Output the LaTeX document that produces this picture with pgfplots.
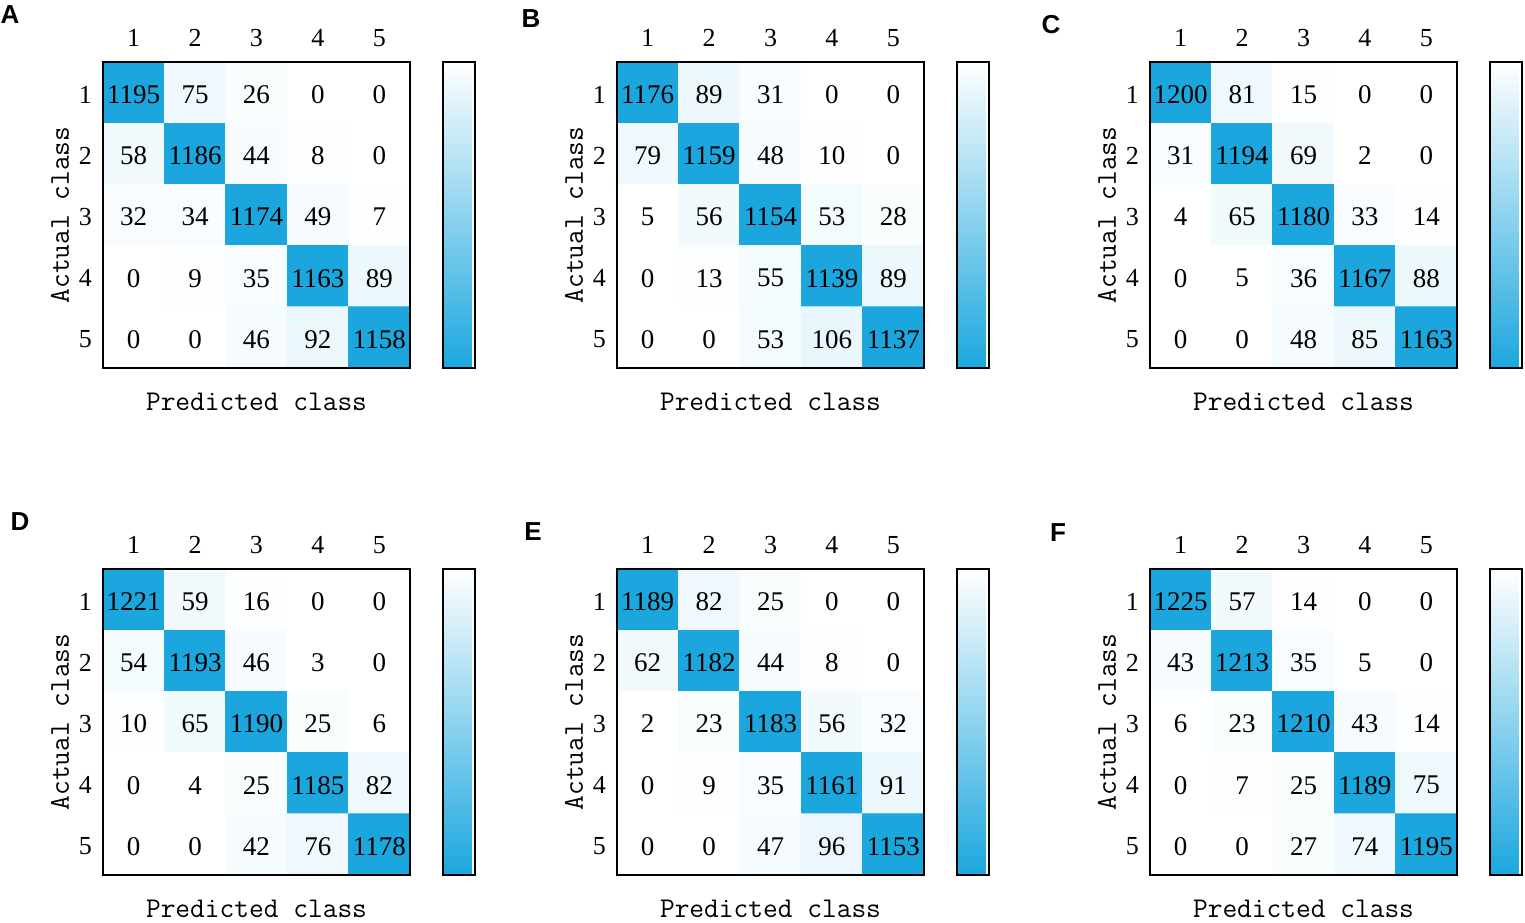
\documentclass[border=0pt]{standalone}
\usepackage{fontspec}
\setmainfont{Liberation Serif}
\newfontfamily\panelfont{Liberation Sans}
\usepackage{pgfplots}
\pgfplotsset{compat=1.18}
\pgfplotsset{
  cm/.style={
    width=153.5pt, height=153pt, scale only axis,
    xmin=0.5, xmax=5.5, ymin=0.5, ymax=5.5, y dir=reverse,
    xtick={1,...,5}, ytick={1,...,5},
    xticklabel pos=top,
    major tick length=0pt, tick style={draw=none},
    /pgf/number format/assume math mode=true,
    /pgf/number format/1000 sep={},
    ticklabel style={font=\fontsize{13}{15}\selectfont},
    xticklabel style={yshift=4pt},
    yticklabel style={xshift=-2pt, yshift=-1pt},
    axis on top,
    axis line style={line width=1pt, black},
    colormap={cmb}{rgb255=(255,255,255) rgb255=(27,167,222)},
    point meta min=0, point meta max=1100,
    colorbar,
    colorbar style={width=16pt, ytick=\empty, xtick=\empty, y dir=reverse,
      axis line style={line width=1pt},
      at={(parent axis.north east)}, anchor=north west, xshift=8pt},
    xlabel={Predicted class}, ylabel={Actual class},
    xlabel style={at={(axis description cs:0.5,-0.111)}, anchor=center,
      font=\fontsize{14.3}{16}\selectfont\ttfamily},
    ylabel style={at={(axis description cs:-0.14,0.5)}, anchor=center,
      font=\fontsize{14.3}{16}\selectfont\ttfamily},
    nodes near coords={\pgfmathprintnumber{\pgfplotspointmeta}},
    nodes near coords style={anchor=center, yshift=-1pt, text=black, font=\fontsize{13.5}{15}\selectfont},
  }
}
\begin{document}
\begin{tikzpicture}
\path[use as bounding box] (0,0) rectangle (762.5pt,461pt);
% A
\begin{axis}[cm, at={(51.5pt,277pt)}, anchor=south west]
\addplot[matrix plot*, mesh/cols=5, point meta=explicit] coordinates {
(1,1)[1195] (2,1)[75] (3,1)[26] (4,1)[0] (5,1)[0]
(1,2)[58] (2,2)[1186] (3,2)[44] (4,2)[8] (5,2)[0]
(1,3)[32] (2,3)[34] (3,3)[1174] (4,3)[49] (5,3)[7]
(1,4)[0] (2,4)[9] (3,4)[35] (4,4)[1163] (5,4)[89]
(1,5)[0] (2,5)[0] (3,5)[46] (4,5)[92] (5,5)[1158]};
\end{axis}
% B
\begin{axis}[cm, at={(308.5pt,277pt)}, anchor=south west]
\addplot[matrix plot*, mesh/cols=5, point meta=explicit] coordinates {
(1,1)[1176] (2,1)[89] (3,1)[31] (4,1)[0] (5,1)[0]
(1,2)[79] (2,2)[1159] (3,2)[48] (4,2)[10] (5,2)[0]
(1,3)[5] (2,3)[56] (3,3)[1154] (4,3)[53] (5,3)[28]
(1,4)[0] (2,4)[13] (3,4)[55] (4,4)[1139] (5,4)[89]
(1,5)[0] (2,5)[0] (3,5)[53] (4,5)[106] (5,5)[1137]};
\end{axis}
% C
\begin{axis}[cm, at={(575pt,277pt)}, anchor=south west]
\addplot[matrix plot*, mesh/cols=5, point meta=explicit] coordinates {
(1,1)[1200] (2,1)[81] (3,1)[15] (4,1)[0] (5,1)[0]
(1,2)[31] (2,2)[1194] (3,2)[69] (4,2)[2] (5,2)[0]
(1,3)[4] (2,3)[65] (3,3)[1180] (4,3)[33] (5,3)[14]
(1,4)[0] (2,4)[5] (3,4)[36] (4,4)[1167] (5,4)[88]
(1,5)[0] (2,5)[0] (3,5)[48] (4,5)[85] (5,5)[1163]};
\end{axis}
% D
\begin{axis}[cm, at={(51.5pt,23.5pt)}, anchor=south west]
\addplot[matrix plot*, mesh/cols=5, point meta=explicit] coordinates {
(1,1)[1221] (2,1)[59] (3,1)[16] (4,1)[0] (5,1)[0]
(1,2)[54] (2,2)[1193] (3,2)[46] (4,2)[3] (5,2)[0]
(1,3)[10] (2,3)[65] (3,3)[1190] (4,3)[25] (5,3)[6]
(1,4)[0] (2,4)[4] (3,4)[25] (4,4)[1185] (5,4)[82]
(1,5)[0] (2,5)[0] (3,5)[42] (4,5)[76] (5,5)[1178]};
\end{axis}
% E
\begin{axis}[cm, at={(308.5pt,23.5pt)}, anchor=south west]
\addplot[matrix plot*, mesh/cols=5, point meta=explicit] coordinates {
(1,1)[1189] (2,1)[82] (3,1)[25] (4,1)[0] (5,1)[0]
(1,2)[62] (2,2)[1182] (3,2)[44] (4,2)[8] (5,2)[0]
(1,3)[2] (2,3)[23] (3,3)[1183] (4,3)[56] (5,3)[32]
(1,4)[0] (2,4)[9] (3,4)[35] (4,4)[1161] (5,4)[91]
(1,5)[0] (2,5)[0] (3,5)[47] (4,5)[96] (5,5)[1153]};
\end{axis}
% F
\begin{axis}[cm, at={(575pt,23.5pt)}, anchor=south west]
\addplot[matrix plot*, mesh/cols=5, point meta=explicit] coordinates {
(1,1)[1225] (2,1)[57] (3,1)[14] (4,1)[0] (5,1)[0]
(1,2)[43] (2,2)[1213] (3,2)[35] (4,2)[5] (5,2)[0]
(1,3)[6] (2,3)[23] (3,3)[1210] (4,3)[43] (5,3)[14]
(1,4)[0] (2,4)[7] (3,4)[25] (4,4)[1189] (5,4)[75]
(1,5)[0] (2,5)[0] (3,5)[27] (4,5)[74] (5,5)[1195]};
\end{axis}
\begin{scope}[every node/.style={font=\panelfont\bfseries\fontsize{13}{15}\selectfont}]
\node at (5pt,453.5pt) {A};
\node at (265.5pt,451.5pt) {B};
\node at (525.5pt,448.5pt) {C};
\node at (10pt,200pt) {D};
\node at (266.5pt,195pt) {E};
\node at (529pt,194.5pt) {F};
\end{scope}
\end{tikzpicture}
\end{document}
